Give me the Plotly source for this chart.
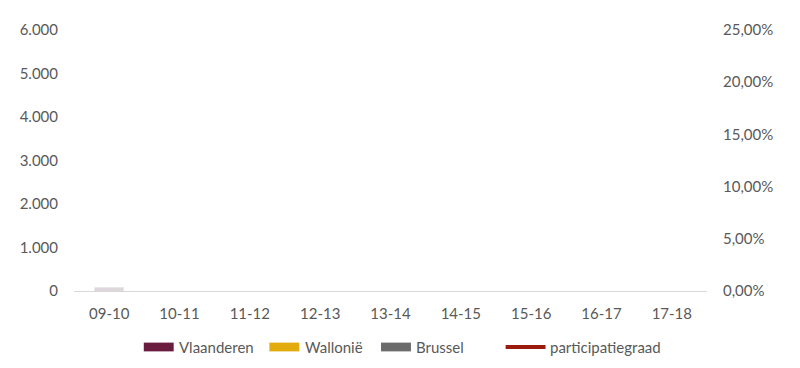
import plotly.graph_objects as go

seizoenen = ["09-10", "10-11", "11-12", "12-13", "13-14", "14-15", "15-16", "16-17", "17-18"]
vlaanderen = [0, 0, 0, 0, 0, 0, 0, 0, 0]
wallonie = [0, 0, 0, 0, 0, 0, 0, 0, 0]
brussel = [90, 0, 0, 0, 0, 0, 0, 0, 0]
participatiegraad = [None, None, None, None, None, None, None, None, None]

left_ticks = [0, 1000, 2000, 3000, 4000, 5000, 6000]
left_labels = ["0", "1.000", "2.000", "3.000", "4.000", "5.000", "6.000"]
right_ticks = [0, 0.05, 0.10, 0.15, 0.20, 0.25]
right_labels = ["0,00%", "5,00%", "10,00%", "15,00%", "20,00%", "25,00%"]

colors = {"Vlaanderen": "#6b1d3f", "Wallonië": "#e3ac0e", "Brussel": "#6b6b6b", "participatiegraad": "#9b1c0c"}
FONT = "Lato, 'Open Sans', sans-serif"
TXT = "#595959"

OFF = 8  # default page body margin
W, H = 792, 360
L, R, T, B = 64, 93, 15, 77
PW, PH = W - L - R, H - T - B

def px(x):
    return (x - OFF - L) / PW

def py(y):
    return (H - B - (y - OFF)) / PH

fig = go.Figure()
fig.add_trace(go.Bar(x=seizoenen, y=vlaanderen, name="Vlaanderen", marker_color=colors["Vlaanderen"]))
fig.add_trace(go.Bar(x=seizoenen, y=wallonie, name="Wallonië", marker_color=colors["Wallonië"]))
fig.add_trace(go.Bar(x=seizoenen, y=brussel, name="Brussel", marker=dict(color="#b8a9b2", opacity=0.45)))
fig.add_trace(go.Scatter(x=seizoenen, y=participatiegraad, name="participatiegraad", mode="lines",
                         line=dict(color=colors["participatiegraad"], width=4), yaxis="y2"))

# custom legend (wide swatches like the original)
legend_items = [
    ("Vlaanderen", "rect", 142, 172, 175),
    ("Wallonië", "rect", 268, 298, 302),
    ("Brussel", "rect", 380, 410, 413),
    ("participatiegraad", "line", 505, 545, 547),
]
shapes = []
annotations = []
for name, kind, x0, x1, tx in legend_items:
    if kind == "rect":
        shapes.append(dict(type="rect", xref="paper", yref="paper", x0=px(x0), x1=px(x1),
                           y0=py(353), y1=py(344), fillcolor=colors[name], line=dict(width=0)))
    else:
        shapes.append(dict(type="line", xref="paper", yref="paper", x0=px(x0), x1=px(x1),
                           y0=py(348.5), y1=py(348.5), line=dict(color=colors[name], width=4)))
    annotations.append(dict(xref="paper", yref="paper", x=px(tx), y=py(348.5), text=name,
                            showarrow=False, xanchor="left", yanchor="middle",
                            font=dict(family=FONT, size=15, color=TXT)))

fig.update_layout(
    width=W, height=H,
    margin=dict(l=L, r=R, t=T, b=B),
    paper_bgcolor="white", plot_bgcolor="white",
    barmode="stack", bargap=0.58,
    font=dict(family=FONT, size=15, color=TXT),
    showlegend=False,
    shapes=shapes,
    annotations=annotations,
    xaxis=dict(type="category", showgrid=False, showline=True, linecolor="#d9d9d9", linewidth=1,
               ticks="", ticklabelstandoff=9, tickfont=dict(size=15, color=TXT)),
    yaxis=dict(range=[0, 6000], tickvals=left_ticks, ticktext=left_labels,
               showgrid=False, zeroline=False, showline=False, ticklabelstandoff=15),
    yaxis2=dict(range=[0, 0.25], tickvals=right_ticks, ticktext=right_labels,
                overlaying="y", side="right", showgrid=False, zeroline=False, showline=False,
                ticklabelstandoff=15),
)

fig.write_html("out.html")
